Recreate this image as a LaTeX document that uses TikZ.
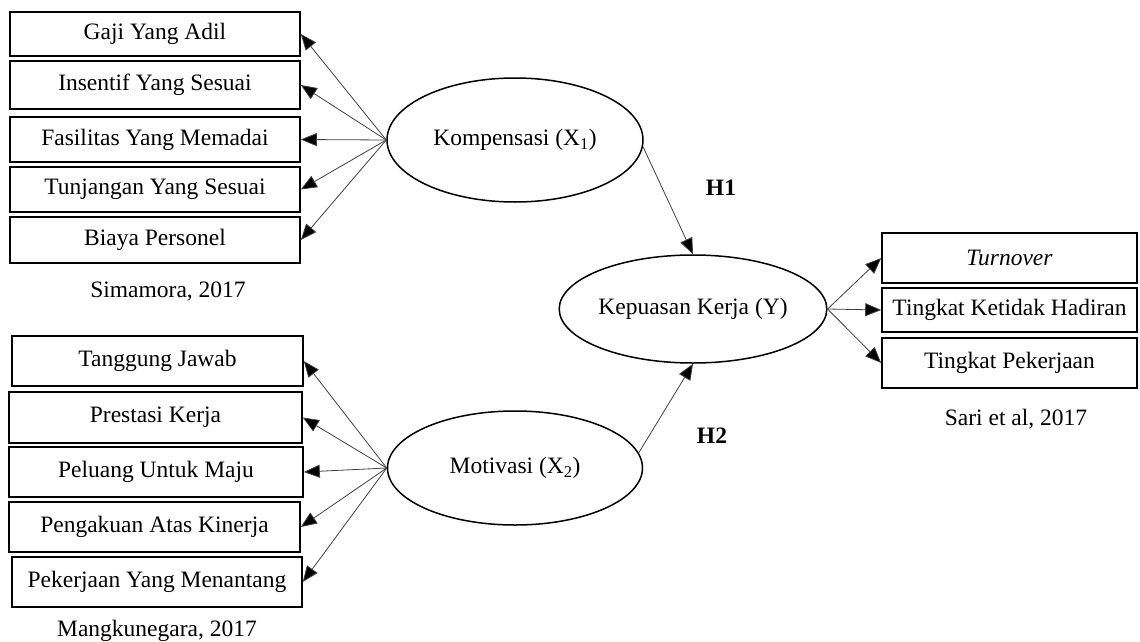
\documentclass[tikz,border=0pt]{standalone}
\usepackage{fontspec}
\setmainfont{Liberation Serif}
\usetikzlibrary{shapes.geometric,arrows.meta}
\begin{document}
\begin{tikzpicture}[x=1pt,y=-1pt,
  every node/.style={font=\fontsize{23.5}{27}\selectfont},
  indbox/.style={draw=black,line width=1.6pt,rectangle,inner sep=0pt,minimum width=#1},
  latent/.style={draw=black,line width=1.5pt,ellipse,inner sep=0pt},
  link/.style={draw=black!75,line width=0.8pt,-{Triangle[length=16pt,width=13pt,fill=black]}},
  cite/.style={anchor=base},
  hyp/.style={anchor=base,font=\fontsize{23.5}{27}\selectfont\bfseries}]
\useasboundingbox (0,0) rectangle (1140,642);
% top-left indicator boxes
\node[indbox=290pt,minimum height=44pt] (b1) at (155,34) {Gaji Yang Adil};
\node[indbox=290pt,minimum height=48pt] (b2) at (155,85) {Insentif Yang Sesuai};
\node[indbox=290pt,minimum height=45pt] (b3) at (155,139.5) {Fasilitas Yang Memadai};
\node[indbox=290pt,minimum height=45pt] (b4) at (155,189.5) {Tunjangan Yang Sesuai};
\node[indbox=290pt,minimum height=46pt] (b5) at (155,240) {Biaya Personel};
\node[cite] (c1) at (168,297) {Simamora, 2017};
% bottom-left indicator boxes
\node[indbox=291pt,minimum height=50pt] (m1) at (157.5,361) {Tanggung Jawab};
\node[indbox=293pt,minimum height=51pt] (m2) at (155.5,417.5) {Prestasi Kerja};
\node[indbox=294pt,minimum height=50pt] (m3) at (156,472) {Peluang Untuk Maju};
\node[indbox=291pt,minimum height=50pt] (m4) at (154.5,527) {Pengakuan Atas Kinerja};
\node[indbox=290pt,minimum height=50pt] (m5) at (157,582) {Pekerjaan Yang Menantang};
\node[cite] (c2) at (157,636) {Mangkunegara, 2017};
% right indicator boxes
\node[indbox=255pt,minimum height=50pt] (r1) at (1009.5,258) {\textit{Turnover}};
\node[indbox=255pt,minimum height=44pt] (r2) at (1009.5,310) {Tingkat Ketidak Hadiran};
\node[indbox=255pt,minimum height=50pt] (r3) at (1009.5,363) {Tingkat Pekerjaan};
\node[cite] (c3) at (1016,425) {Sari et al, 2017};
% latent variables
\node[latent,minimum width=256pt,minimum height=124pt] (k) at (515,140) {Kompensasi (X\textsubscript{1})};
\node[latent,minimum width=255pt,minimum height=114pt] (m) at (515,468) {Motivasi (X\textsubscript{2})};
\node[latent,minimum width=260pt,minimum height=108pt] (y) at (693,309) {Kepuasan Kerja (Y)};
% hypothesis labels
\node[hyp] (h1) at (721,195) {H1};
\node[hyp] (h2) at (712,443) {H2};
% connectors
\foreach \b in {b1,b2,b3,b4,b5} \draw[link] (k.west) -- (\b.east);
\foreach \b in {m1,m2,m3,m4,m5} \draw[link] (m.west) -- (\b.east);
\draw[link] (k.-3) -- (y.north);
\draw[link] (m.7) -- (y.south);
\draw[link] (y.east) -- (r1.west);
\draw[link] (y.east) -- (r2.west);
\draw[link] (y.east) -- (r3.west);
\end{tikzpicture}
\end{document}
